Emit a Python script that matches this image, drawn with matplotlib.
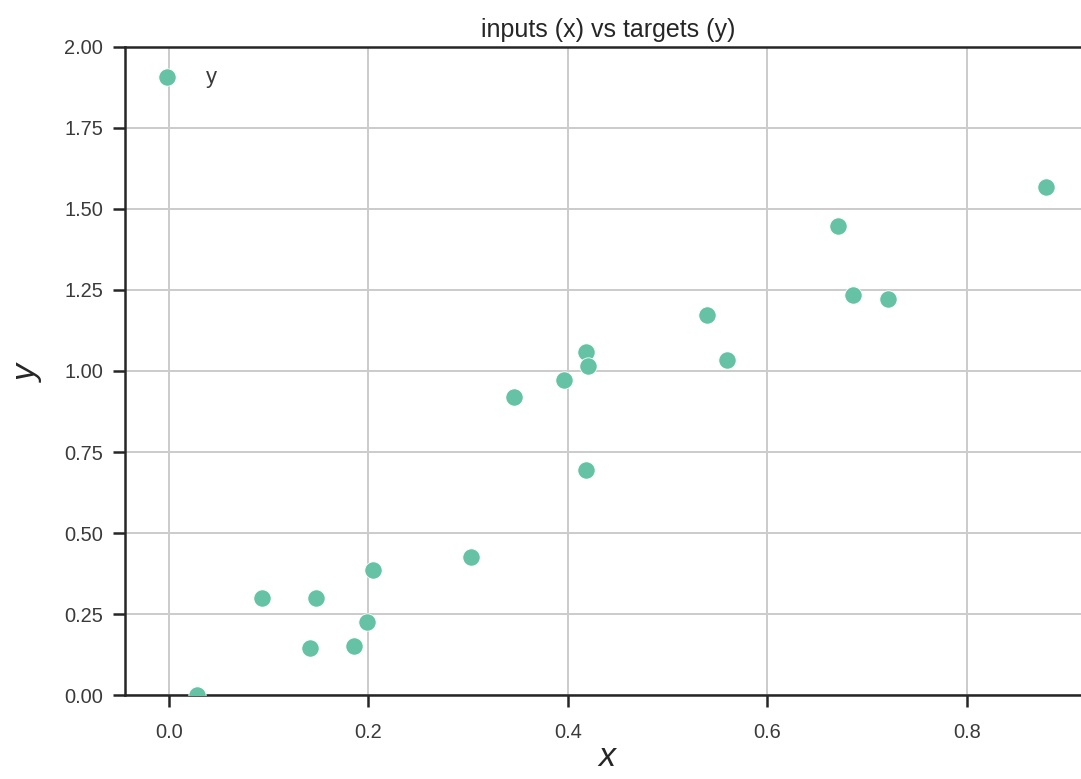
import numpy as np
import matplotlib
matplotlib.use('Agg')
import matplotlib.pyplot as plt

# values
x_vals = [0.028, 0.093, 0.147, 0.141, 0.186, 0.199, 0.205, 0.303, 0.346,
          0.396, 0.418, 0.420, 0.418, 0.539, 0.559, 0.671, 0.686, 0.721, 0.879]
y_vals = [0.000, 0.300, 0.300, 0.145, 0.151, 0.225, 0.386, 0.426, 0.920,
          0.972, 1.059, 1.015, 0.694, 1.173, 1.034, 1.448, 1.235, 1.222, 1.568]
series_name = 'y'

xticks = [0.0, 0.2, 0.4, 0.6, 0.8]
yticks = [0.0, 0.25, 0.5, 0.75, 1.0, 1.25, 1.5, 1.75, 2.0]

dark = '#262626'
plt.rcParams['font.family'] = ['Liberation Sans', 'DejaVu Sans']
plt.rcParams['mathtext.fontset'] = 'custom'
plt.rcParams['mathtext.it'] = 'Liberation Sans:italic'

fig = plt.figure(figsize=(1081 / 144, 779 / 144), dpi=144)
ax = fig.add_axes([0.1156, 0.1078, 1.009 - 0.1156, 0.9397 - 0.1078])

ax.scatter(x_vals, y_vals, s=75, color='#66c2a5', edgecolor='white',
           linewidth=0.4, zorder=3, label=series_name)

ax.set_xlim(-0.044, 0.924)
ax.set_ylim(0, 2)
ax.set_xticks(xticks)
ax.set_yticks(yticks)
ax.set_xticklabels(['%.1f' % t for t in xticks])
ax.set_yticklabels(['%.2f' % t for t in yticks])
ax.grid(True, color='#cccccc', linewidth=1.0)
ax.set_axisbelow(True)

for sp in ax.spines.values():
    sp.set_color(dark)
    sp.set_linewidth(1.25)
ax.tick_params(direction='out', length=6, width=1.25, color=dark,
               labelcolor='#3a3a3a', labelsize=10)
ax.tick_params(axis='x', pad=8)
ax.tick_params(axis='y', pad=5)

ax.set_title('inputs (x) vs targets (y)', fontsize=12.5, color=dark, pad=5)
ax.set_xlabel('$x$', fontsize=17, color=dark, labelpad=0)
ax.set_ylabel('$y$', fontsize=17, color=dark, labelpad=10)

ax.legend(loc='upper left', frameon=False, fontsize=11, scatterpoints=1,
          labelcolor='#3a3a3a')

fig.savefig('out.png', dpi=144)
